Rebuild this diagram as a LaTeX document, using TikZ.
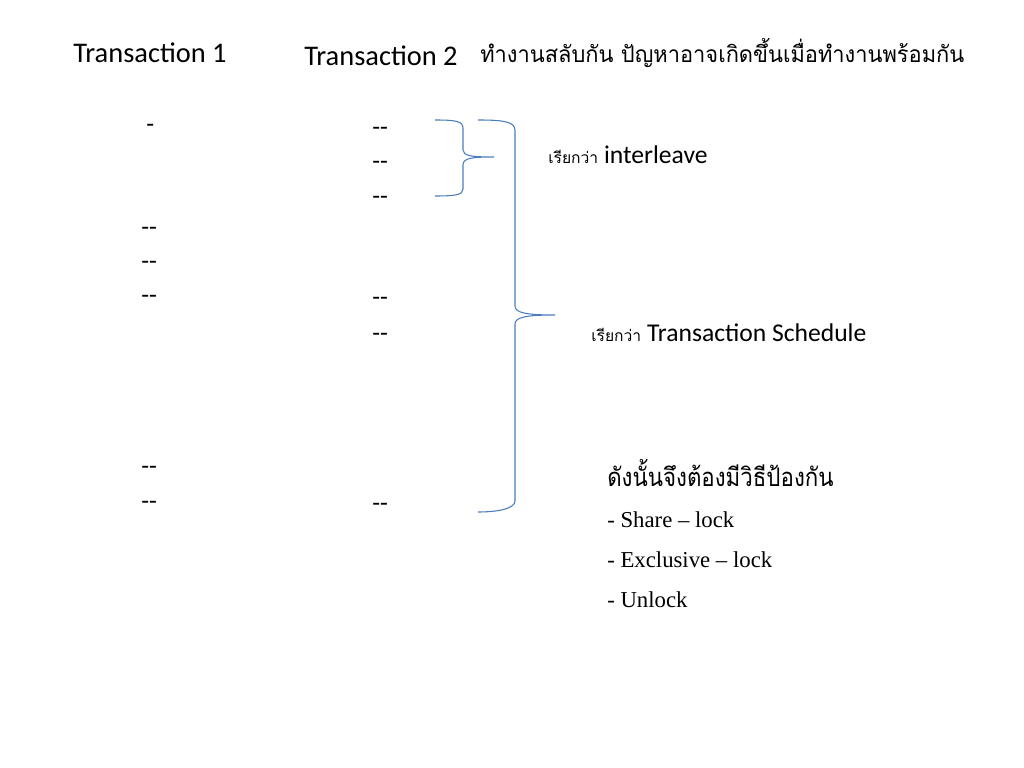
\documentclass[tikz,border=0pt]{standalone}
\usepackage{fontspec}
\setmainfont{Carlito}
\newfontfamily\thaifont[Script=Thai]{Loma}
\newfontfamily\serifthai[Script=Thai]{Loma}
\newfontfamily\timesfont{Liberation Serif}
\usetikzlibrary{positioning}
\definecolor{braceblue}{HTML}{4A7EBB}

\tikzset{
  txt/.style={inner sep=0pt, anchor=base west},
  title/.style={txt, font=\fontsize{20}{24}\selectfont},
  ops/.style={txt, font=\fontsize{18}{22}\selectfont},
  callout/.style={txt, font=\fontsize{18}{22}\selectfont},
  remedy/.style={txt, font=\timesfont\fontsize{16}{19}\selectfont},
  brace/.style={draw=braceblue, line width=0.75pt}
}

\begin{document}
\begin{tikzpicture}[x=0.703125pt, y=-0.703125pt]
 \useasboundingbox (0,0) rectangle (1024,768);

 \node[title] (t1) at (73,63) {Transaction 1};
 \node[title] (t2) at (304,66) {Transaction 2};
 \node[txt, font=\thaifont\fontsize{16}{20}\selectfont] (issue) at (480,63)
   {\scalebox{0.96}[1]{ทำงานสลับกัน ปัญหาอาจเกิดขึ้นเมื่อทำงานพร้อมกัน}};

 \node[ops] (a0) at (146,133) {-};
 \foreach \y [count=\i] in {236,270,304,474,509}
   \node[ops] (a\i) at (141,\y) {-{}-};
 \foreach \y [count=\i] in {136,170,205,306,341,511}
   \node[ops] (b\i) at (372,\y) {-{}-};

 \draw[brace] (435,120) .. controls (455,120) and (463,121) .. (463,128)
   -- (463,150) .. controls (463,156) and (472,157) .. (494,157)
   .. controls (472,157) and (463,158) .. (463,165)
   -- (463,189) .. controls (463,195) and (455,196) .. (435,196);
 \draw[brace] (478,120) .. controls (500,120) and (515,121) .. (515,130)
   -- (515,306) .. controls (515,313) and (527,315) .. (555,315)
   .. controls (527,315) and (515,317) .. (515,324)
   -- (515,501) .. controls (515,508) and (500,512) .. (478,512);

 \node[callout] (ilv) at (548,164)
   {{\thaifont\fontsize{11}{13}\selectfont เรียกว่า} interleave};
 \node[callout] (sched) at (591,342)
   {{\thaifont\fontsize{11}{13}\selectfont เรียกว่า} Transaction Schedule};

 \node[txt, font=\serifthai\fontsize{18}{22}\selectfont] (so) at (607,486)
   {\scalebox{0.87}[1]{ดังนั้นจึงต้องมีวิธีป้องกัน}};
 \node[remedy] (share) at (607,527) {- Share – lock};
 \node[remedy] (excl) at (607,567) {- Exclusive – lock};
 \node[remedy] (unlock) at (607,607) {- Unlock};
\end{tikzpicture}
\end{document}
